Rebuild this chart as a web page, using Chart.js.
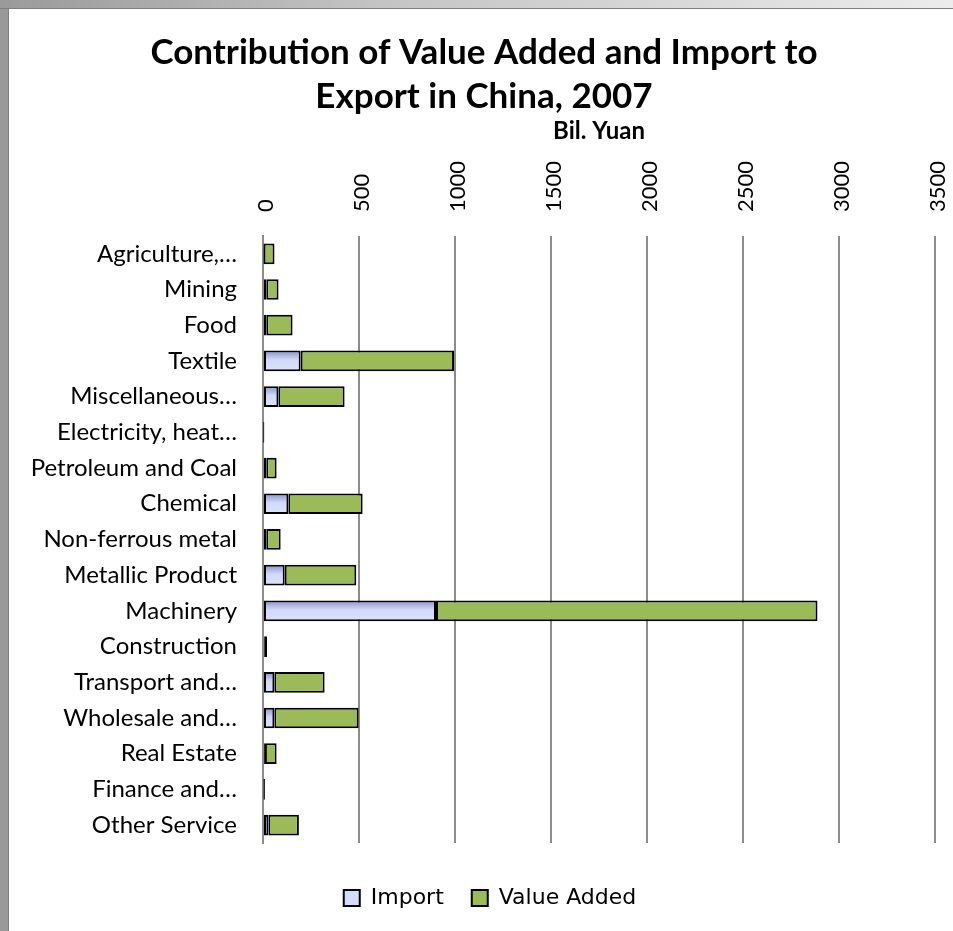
<!DOCTYPE html>
<html lang="en">
<head>
<meta charset="UTF-8">
<title>Contribution of Value Added and Import to Export in China, 2007</title>
<script src="https://cdn.jsdelivr.net/npm/chart.js"></script>
<style>
    html, body { margin: 0; padding: 0; }
    body {
        width: 953px;
        height: 931px;
        overflow: hidden;
        background: #999999;
        position: relative;
    }
    .topband {
        position: absolute; left: 0; top: 0; width: 953px; height: 9px;
        background: linear-gradient(to right, #9a9a9a, #c4c4c4 40%, #ececec);
        border-bottom: 1px solid #808080;
        box-sizing: border-box;
    }
    .janela {
        position: absolute; left: 8px; top: 9px;
        width: 945px; height: 922px;
        background: #ffffff;
        border-left: 1px solid #808080;
        box-sizing: border-box;
    }
</style>
</head>
<body>
<div class="topband"></div>
<div class="janela">
    <canvas id="graficoBarra" width="944" height="922"></canvas>
</div>

<script>
    // dados (bilhões de yuan)
    const setores = ['Agriculture,…', 'Mining', 'Food', 'Textile', 'Miscellaneous…',
        'Electricity, heat…', 'Petroleum and Coal', 'Chemical', 'Non-ferrous metal',
        'Metallic Product', 'Machinery', 'Construction', 'Transport and…',
        'Wholesale and…', 'Real Estate', 'Finance and…', 'Other Service'];
    const importacao = [3, 17, 17, 196, 80, 2, 17, 132, 17, 113, 901, 6, 59, 59, 10, 3, 28];
    const valorAdicionado = [57, 64, 137, 799, 345, 5, 54, 387, 75, 373, 1987, 15, 262, 439, 61, 7, 159];
    const ticksX = [0, 500, 1000, 1500, 2000, 2500, 3000, 3500];

    // degradê azul das barras de importação (mais escuro no topo)
    const pluginDegrade = {
        id: 'degrade',
        beforeDatasetDraw: function (chart, args) {
            if (args.index !== 0) return;
            const c = chart.ctx;
            args.meta.data.forEach(function (el) {
                const topo = el.y - el.height / 2;
                const g = c.createLinearGradient(0, topo, 0, topo + el.height);
                g.addColorStop(0, '#8a90cc');
                g.addColorStop(0.45, '#d2daf8');
                g.addColorStop(1, '#dae2ff');
                // cada barra precisa do seu próprio objeto de opções
                el.options = Object.assign({}, el.options, { backgroundColor: g });
            });
        }
    };

    // ajuste fino da posição do título e da legenda
    const pluginPosicao = {
        id: 'posicao',
        afterLayout: function (chart) {
            const t = chart.titleBlock;
            t.left += 12; t.right += 12;
            const l = chart.legend;
            l.left += 18; l.right += 18;
            l.top += 16; l.bottom += 16;
        }
    };

    const ctx = document.getElementById('graficoBarra');
    new Chart(ctx, {
        type: 'bar',
        data: {
            labels: setores,
            datasets: [{
                label: 'Import',
                data: importacao,
                backgroundColor: '#d4dcfc',
                borderColor: '#000000',
                borderWidth: 2,
                borderSkipped: false,
                categoryPercentage: 1,
                barPercentage: 0.58
            }, {
                label: 'Value Added',
                data: valorAdicionado,
                backgroundColor: '#9bbb59',
                borderColor: '#000000',
                borderWidth: 2,
                borderSkipped: false,
                categoryPercentage: 1,
                barPercentage: 0.58
            }]
        },
        plugins: [pluginDegrade, pluginPosicao],
        options: {
            indexAxis: 'y',
            responsive: false,
            animation: false,
            layout: {
                padding: { left: 0, right: 18, top: 0, bottom: 28 }
            },
            scales: {
                x: {
                    position: 'top',
                    stacked: true,
                    min: 0,
                    max: 3500,
                    afterBuildTicks: function (scale) {
                        scale.ticks = ticksX.map(function (v) { return { value: v }; });
                    },
                    afterFit: function (scale) {
                        scale.paddingLeft = 0;
                        scale.paddingRight = 0;
                    },
                    grid: {
                        color: '#8c8c8c',
                        lineWidth: 2,
                        drawTicks: false
                    },
                    border: { display: false },
                    ticks: {
                        minRotation: 90,
                        maxRotation: 90,
                        padding: 24,
                        labelOffset: 29,
                        color: '#000000',
                        font: { family: 'Lato', size: 22 },
                        callback: function (v) { return String(v); }
                    },
                    title: {
                        display: true,
                        text: 'Bil. Yuan',
                        color: '#000000',
                        font: { family: 'Lato', size: 24, weight: 'bold', lineHeight: 1 },
                        padding: { top: 0, bottom: -6 }
                    }
                },
                y: {
                    stacked: true,
                    grid: { display: false, drawTicks: false },
                    border: { display: true, color: '#8c8c8c', width: 2 },
                    afterFit: function (scale) {
                        scale.width = 254;
                    },
                    ticks: {
                        padding: 26,
                        color: '#000000',
                        font: { family: 'Lato', size: 24 }
                    }
                }
            },
            plugins: {
                title: {
                    display: true,
                    text: ['Contribution of Value Added and Import to', 'Export in China, 2007'],
                    color: '#000000',
                    font: { family: 'Lato', size: 35, weight: 'bold', lineHeight: 1.27 },
                    padding: { top: 21, bottom: 0 }
                },
                legend: {
                    position: 'bottom',
                    labels: {
                        boxWidth: 16,
                        boxHeight: 16,
                        padding: 28,
                        color: '#000000',
                        font: { family: 'DejaVu Sans', size: 22 }
                    }
                },
                tooltip: { enabled: false }
            }
        }
    });
</script>
</body>
</html>
